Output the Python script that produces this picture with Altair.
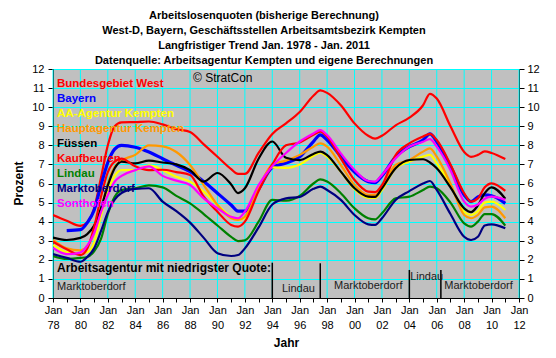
import json
import altair as alt
import pandas as pd

# ---------------- data ----------------
years = [1978, 1979, 1980, 1980.5, 1981, 1981.5, 1982, 1982.5, 1983, 1984, 1985, 1986, 1987, 1988,
         1989, 1990, 1991, 1991.5, 1992, 1993, 1994, 1995, 1996, 1997, 1997.5, 1998, 1999, 2000,
         2001, 2001.5, 2002, 2003, 2004, 2005, 2005.5, 2006, 2007, 2008, 2008.5, 2009, 2009.5,
         2010, 2011]

bundesgebiet_west = [4.35, 4.05, 3.78, 3.95, 4.7, 6.3, 8.0, 9.0, 9.2, 9.22, 9.25, 9.1, 8.85, 8.7,
                     8.05, 7.4, 6.75, 6.5, 6.5, 7.6, 8.6, 9.15, 9.75, 10.6, 10.88, 10.75, 10.1, 9.15,
                     8.5, 8.35, 8.5, 9.05, 9.45, 10.1, 10.7, 10.45, 9.0, 7.65, 7.4, 7.5, 7.68,
                     7.6, 7.28]
bayern = [None, 3.53, 3.58, 3.95, 4.6, 5.9, 7.1, 7.8, 8.0, 7.9, 7.65, 7.3, 6.95, 6.62,
          6.1, 5.49, 4.87, 4.55, 4.55, 5.7, 6.85, 7.08, 7.4, 8.2, 8.55, 8.28, 7.41, 6.6,
          6.1, 6.05, 6.4, 7.4, 7.93, 8.28, 8.6, 8.19, 6.9, 5.4, 5.05, 5.3, 5.4,
          5.36, 4.96]
aa_kempten = [2.78, 2.4, 2.34, 2.4, 2.9, 4.3, 5.6, 6.4, 6.7, 6.7, 6.95, 6.7, 6.35, 6.1,
              5.57, 4.87, 4.26, 4.1, 4.18, 5.75, 6.85, 6.82, 7.0, 7.45, 7.62, 7.41, 6.62, 5.7,
              5.25, 5.25, 5.66, 6.8, 7.15, 7.41, 7.5, 7.06, 5.9, 4.52, 4.35, 4.55, 5.0,
              5.05, 4.61]
haupt_kempten = [3.04, 2.6, 2.5, 2.7, 3.4, 4.6, 6.0, 6.88, 7.2, 7.5, 8.0, 7.95, 7.65, 6.97,
                 5.92, 4.87, 4.18, 4.09, 4.26, 5.75, 7.0, 7.2, 7.5, 7.93, 8.1, 7.93, 6.97, 5.92,
                 5.4, 5.4, 5.84, 6.97, 7.23, 7.67, 7.84, 7.41, 6.0, 4.35, 4.18, 4.35, 4.75,
                 4.79, 4.18]
fuessen = [3.17, 3.04, 3.15, 3.35, 3.8, 4.7, 5.9, 6.8, 7.15, 7.05, 7.2, 7.1, 7.0, 6.7,
           6.1, 6.55, 5.95, 5.5, 5.75, 7.3, 8.2, 7.35, 7.23, 7.55, 7.67, 7.49, 6.62, 5.75,
           5.31, 5.3, 5.75, 6.8, 7.23, 7.27, 7.1, 6.8, 5.8, 4.7, 4.5, 4.85, 5.5,
           5.8, 5.2]
kaufbeuren = [2.95, 2.55, 2.25, 2.6, 3.7, 5.3, 6.6, 7.15, 7.3, 6.9, 6.7, 6.72, 6.6, 6.45,
              5.31, 4.52, 3.83, 3.74, 4.0, 5.6, 7.0, 8.0, 8.15, 8.55, 8.72, 8.46, 7.32, 6.18,
              5.57, 5.55, 5.92, 7.49, 8.1, 8.46, 8.6, 8.28, 7.0, 5.49, 5.05, 5.22, 5.8,
              6.01, 5.61]
lindau = [2.2, 2.05, 2.1, 2.15, 2.45, 3.1, 4.4, 5.3, 5.65, 5.75, 5.9, 5.8, 5.35, 4.96,
          4.4, 3.8, 3.2, 2.98, 3.02, 4.0, 5.14, 5.1, 5.35, 6.0, 6.22, 6.1, 5.49, 4.7,
          4.18, 4.12, 4.44, 5.22, 5.31, 5.66, 5.84, 5.75, 5.0, 3.91, 3.74, 4.0, 4.4,
          4.4, 3.79]
marktoberdorf = [2.3, 2.1, 1.9, 2.15, 2.6, 3.5, 4.5, 5.15, 5.5, 5.72, 5.75, 5.05, 4.55, 3.95,
                 3.15, 2.35, 2.2, 2.25, 2.6, 3.7, 4.9, 5.22, 5.3, 5.72, 5.84, 5.66, 5.14, 4.35,
                 3.86, 3.83, 4.18, 5.14, 5.6, 6.0, 6.13, 5.66, 4.4, 3.21, 3.04, 3.21, 3.8,
                 3.86, 3.65]
sonthofen = [2.62, 2.3, 2.38, 2.75, 3.4, 4.5, 5.4, 6.1, 6.4, 6.7, 6.9, 6.4, 6.15, 5.92,
             5.22, 4.7, 4.26, 4.18, 4.52, 5.92, 6.9, 7.6, 8.2, 8.62, 8.8, 8.54, 7.58, 6.71,
             6.13, 6.1, 6.45, 7.32, 7.93, 8.19, 8.33, 7.93, 6.7, 5.05, 4.79, 4.9, 5.2,
             5.31, 5.14]

series_names = ["Bundesgebiet West", "Bayern", "AA-Agentur Kempten", "Hauptagentur Kempten",
                "Füssen", "Kaufbeuren", "Lindau", "Marktoberdorf", "Sonthofen"]
series_values = [bundesgebiet_west, bayern, aa_kempten, haupt_kempten, fuessen, kaufbeuren,
                 lindau, marktoberdorf, sonthofen]

title_lines = ["Arbeitslosenquoten (bisherige Berechnung)",
               "West-D, Bayern, Geschäftsstellen Arbeitsamtsbezirk Kempten",
               "Langfristiger Trend Jan. 1978 - Jan. 2011",
               "Datenquelle: Arbeitsagentur Kempten und eigene Berechnungen"]

x_label_years = list(range(1978, 2013, 2))
x_tick_labels = ["78", "80", "82", "84", "86", "88", "90", "92", "94", "96", "98",
                 "00", "02", "04", "06", "08", "10", "12"]
y_ticks = list(range(0, 13))

lowest_heading = "Arbeitsagentur mit niedrigster Quote:"
lowest_labels = ["Marktoberdorf", "Lindau", "Marktoberdorf", "Lindau", "Marktoberdorf"]
lowest_bounds = [1994.0, 1997.5, 2004.0, 2006.3]

# ---------------- styles / layout ----------------
colors = ["#FF0000", "#0000FF", "#FFFF00", "#FF9900", "#000000", "#FF0000", "#008000",
          "#000080", "#FF00FF"]
widths = [2.2, 3.2, 2.2, 2.2, 2.2, 2.2, 2.2, 2.2, 2.2]
FONT = "Liberation Sans"
W, H = 466, 229

bound_tops = [1.85, 1.82, 1.47, 1.47]
label_x = [1978.3, 1994.7, 1998.5, 2004.06, 2006.55]
label_y = [0.58, 0.47, 0.63, 1.1, 0.63]

xscale = alt.Scale(domain=[1978, 2012], nice=False, zero=False)
yscale = alt.Scale(domain=[0, 12], nice=False)

label_expr = ("datum.value % 2 == 0 ? ['Jan', " + json.dumps(x_tick_labels) +
              "[(datum.value - 1978) / 2]] : ''")

xaxis = alt.Axis(values=list(range(1978, 2013)), tickSize=4, labelExpr=label_expr, grid=False,
                 title="Jahr", titleFontSize=12, titleFontWeight="bold", titleColor="black",
                 titleY=44, titleBaseline="middle",
                 labelFontSize=11, labelLineHeight=15, labelColor="black", labelPadding=2,
                 labelOverlap=False, labelFlush=False, labelAngle=0,
                 domainColor="black", tickColor="black")
X = alt.X("year:Q", scale=xscale, axis=xaxis)

yaxis_left = alt.Axis(values=y_ticks, grid=True, gridColor="#00FFFF", gridOpacity=1, gridWidth=1,
                      tickSize=5, tickColor="black", domainColor="black",
                      labelFontSize=11, labelColor="black", labelPadding=4,
                      title="Prozent", titleFontSize=12, titleFontWeight="bold",
                      titleColor="black", titleAngle=-90, titleX=-35, titleY=114,
                      titleAlign="center", titleBaseline="middle")
yaxis_right = alt.Axis(orient="right", values=y_ticks, grid=False, tickSize=5,
                       tickColor="black", domainColor="black", labelFontSize=11,
                       labelColor="black", labelPadding=3, title=None)

layers = []

# vertical grid lines every two years
vgrid = alt.Chart(pd.DataFrame({"year": x_label_years})).mark_rule(
    color="#00FFFF", strokeWidth=1).encode(x=X)
layers.append(vgrid)

# series
for i, (name, vals) in enumerate(zip(series_names, series_values)):
    d = pd.DataFrame({"year": years, "value": vals}).dropna()
    axis = yaxis_left if i == 0 else None
    layers.append(
        alt.Chart(d).mark_line(color=colors[i], strokeWidth=widths[i], interpolate="monotone",
                               clip=True)
        .encode(x=X, y=alt.Y("value:Q", scale=yscale, axis=axis))
    )

# right axis carrier (invisible)
layers.append(
    alt.Chart(pd.DataFrame({"year": [1978, 2012], "value": [0, 12]})).mark_point(opacity=0)
    .encode(x=X, y=alt.Y("value:Q", scale=yscale, axis=yaxis_right))
)

# boundaries of lowest-rate segments
bdf = pd.DataFrame({"year": lowest_bounds, "top": bound_tops, "bottom": [0] * len(lowest_bounds)})
layers.append(
    alt.Chart(bdf).mark_rule(color="black", strokeWidth=1.5)
    .encode(x=X, y=alt.Y("top:Q", scale=yscale, axis=None), y2="bottom:Q")
)
ldf = pd.DataFrame({"year": label_x, "value": label_y, "label": lowest_labels})
layers.append(
    alt.Chart(ldf).mark_text(align="left", baseline="middle", fontSize=11, color="#1a1a1a",
                             font=FONT)
    .encode(x=X, y=alt.Y("value:Q", scale=yscale, axis=None), text="label:N")
)

one = pd.DataFrame({"k": [0]})
layers.append(
    alt.Chart(one).mark_text(text=lowest_heading, align="left", baseline="middle", fontSize=12,
                             fontWeight="bold", color="black", font=FONT)
    .encode(x=alt.value(4), y=alt.value(199))
)
layers.append(
    alt.Chart(one).mark_text(text="© StratCon", align="left", baseline="middle", fontSize=12,
                             color="black", font=FONT)
    .encode(x=alt.value(140), y=alt.value(8.5))
)

# in-plot legend
for i, name in enumerate(series_names):
    layers.append(
        alt.Chart(one).mark_text(text=name, align="left", baseline="middle", fontSize=11.5,
                                 fontWeight="bold", color=colors[i], font=FONT)
        .encode(x=alt.value(4), y=alt.value(15 + 15 * i))
    )

# title
layers.append(
    alt.Chart(one).mark_text(text=title_lines, align="center", baseline="top", fontSize=11,
                             fontWeight="bold", lineHeight=15, color="black", font=FONT)
    .encode(x=alt.value(211), y=alt.value(-59))
)

chart = (
    alt.layer(*layers)
    .resolve_scale(y="independent")
    .properties(width=W, height=H,
                padding={"left": 45, "top": 61, "right": 29, "bottom": 52},
                autosize=alt.AutoSizeParams(type="none"),
                background="white")
    .configure(font=FONT)
    .configure_view(fill="#C0C0C0", stroke="black", strokeWidth=1)
)

chart.save("out.html", embed_options={"renderer": "svg", "actions": False})
